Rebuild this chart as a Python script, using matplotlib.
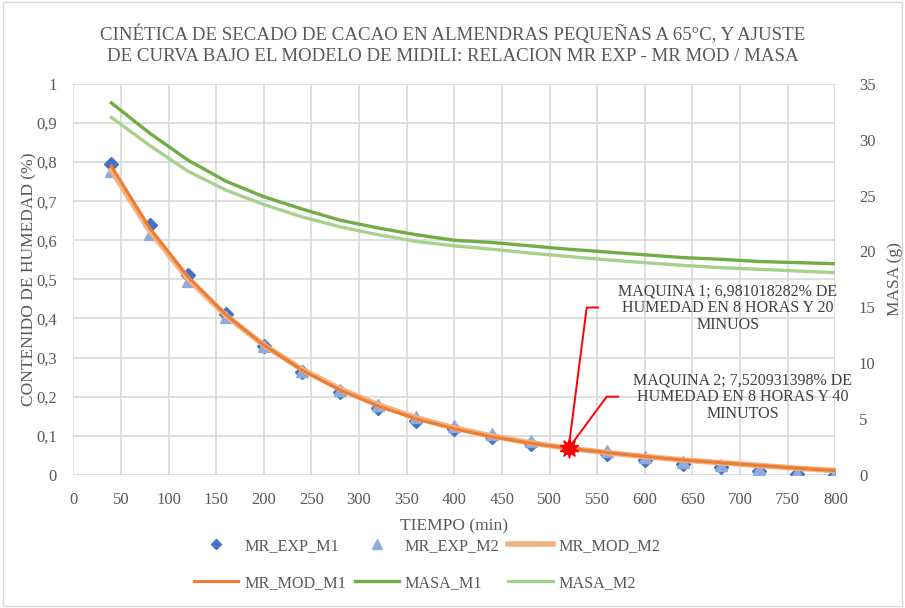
import numpy as np
import matplotlib.pyplot as plt
from matplotlib.patches import Rectangle

plt.rcParams['font.family'] = ['Liberation Serif', 'DejaVu Serif']

# tiempo (min)
tiempo = [40, 80, 120, 160, 200, 240, 280, 320, 360, 400,
          440, 480, 520, 560, 600, 640, 680, 720, 760, 800]

# razon de humedad experimental
mr_exp_m1 = [0.794, 0.638, 0.512, 0.411, 0.330, 0.262, 0.211, 0.170, 0.139, 0.118,
             0.098, 0.080, 0.068, 0.054, 0.038, 0.028, 0.020, 0.011, 0.003, 0.000]
mr_exp_m2 = [0.778, 0.615, 0.495, 0.403, 0.329, 0.265, 0.216, 0.179, 0.149, 0.126,
             0.105, 0.086, 0.075, 0.060, 0.045, 0.034, 0.024, 0.014, 0.006, 0.002]

# modelo de Midili
mr_mod_m1 = [0.790, 0.632, 0.508, 0.410, 0.332, 0.268, 0.217, 0.176, 0.143, 0.118,
             0.097, 0.081, 0.068, 0.057, 0.047, 0.038, 0.031, 0.024, 0.017, 0.011]
mr_mod_m2 = [0.780, 0.625, 0.503, 0.408, 0.332, 0.270, 0.220, 0.179, 0.146, 0.120,
             0.099, 0.082, 0.068, 0.057, 0.047, 0.038, 0.031, 0.024, 0.017, 0.011]

# masa (g)
masa_m1 = [33.3, 30.6, 28.2, 26.3, 24.9, 23.8, 22.8, 22.1, 21.5, 21.0,
           20.8, 20.5, 20.2, 19.95, 19.7, 19.45, 19.3, 19.1, 19.0, 18.9]
masa_m2 = [32.0, 29.5, 27.2, 25.5, 24.2, 23.1, 22.2, 21.5, 20.9, 20.5,
           20.2, 19.85, 19.55, 19.25, 19.0, 18.75, 18.55, 18.4, 18.25, 18.1]

# punto final marcado
punto_t = 520
punto_mr = 0.068

gris = '#595959'
fig = plt.figure(figsize=(9.05, 6.08), dpi=100)
fig.patches.append(Rectangle((0.003, 0.003), 0.994, 0.994, transform=fig.transFigure,
                             fill=False, edgecolor='#D9D9D9', lw=1))
ax = fig.add_axes([0.081, 0.219, 0.842, 0.643])
ax2 = ax.twinx()

d1, = ax.plot(tiempo, mr_exp_m1, 'D', color='#4472C4', ms=7, ls='none', label='MR_EXP_M1')
d2, = ax.plot(tiempo, mr_exp_m2, '^', color='#8FAADC', ms=9, ls='none', label='MR_EXP_M2')
l2, = ax.plot(tiempo, mr_mod_m2, color='#F4B183', lw=4, label='MR_MOD_M2')
l1, = ax.plot(tiempo, mr_mod_m1, color='#ED7D31', lw=2.2, label='MR_MOD_M1')
g1, = ax2.plot(tiempo, masa_m1, color='#70AD47', lw=2.4, label='MASA_M1')
g2, = ax2.plot(tiempo, masa_m2, color='#A9D18E', lw=2.4, label='MASA_M2')

ax.plot([punto_t], [punto_mr], marker=(10, 1, 0), color='red', ms=14, zorder=6)

# anotaciones
ax.plot([punto_t, 539, 551], [punto_mr, 0.428, 0.428], color='red', lw=1.4, zorder=6)
ax.plot([punto_t, 560, 572], [punto_mr, 0.2, 0.2], color='red', lw=1.4, zorder=6)
ax.text(687, 0.426, 'MAQUINA 1; 6,981018282% DE\nHUMEDAD EN 8 HORAS Y 20\nMINUOS',
        ha='center', va='center', fontsize=11.5, color='#404040', linespacing=1.08,
        clip_on=False, zorder=7)
ax.text(703, 0.199, 'MAQUINA 2; 7,520931398% DE\nHUMEDAD EN 8 HORAS Y 40\nMINUTOS',
        ha='center', va='center', fontsize=11.5, color='#404040', linespacing=1.08,
        clip_on=False, zorder=7)

ax.set_xlim(0, 800)
ax.set_ylim(0, 1)
ax2.set_ylim(0, 35)
ax.set_xticks(np.arange(0, 801, 50))
yt = np.arange(0, 1.01, 0.1)
ax.set_yticks(yt)
ax.set_yticklabels(['0' if v < 1e-9 else ('1' if v > 0.99 else f'{v:.1f}'.replace('.', ',')) for v in yt])
ax2.set_yticks(np.arange(0, 36, 5))
ax.grid(True, color='#D9D9D9', lw=1.2)
ax.set_axisbelow(True)
for a in (ax, ax2):
    for s in a.spines.values():
        s.set_visible(False)
ax.tick_params(axis='x', length=0, pad=12, labelsize=12, labelcolor=gris)
ax.tick_params(axis='y', length=0, pad=12, labelsize=12, labelcolor=gris)
ax2.tick_params(axis='y', length=0, pad=17, labelsize=12, labelcolor=gris)

ax.set_xlabel('TIEMPO (min)', fontsize=12.5, color=gris, labelpad=8)
ax.set_ylabel('CONTENIDO DE HUMEDAD (%)', fontsize=12.5, color=gris, labelpad=-1)
ax2.set_ylabel('MASA (g)', fontsize=12.5, color=gris, labelpad=8)

fig.text(0.5, 0.926, 'CINÉTICA DE SECADO DE CACAO EN ALMENDRAS PEQUEÑAS A 65°C, Y AJUSTE\n'
         'DE CURVA BAJO EL MODELO DE MIDILI: RELACION MR EXP - MR MOD / MASA',
         ha='center', va='center', fontsize=13.6, color=gris, linespacing=1.3)

# orden de la leyenda (Excel llena por filas)
handles = [d1, l1, d2, g1, l2, g2]
leg = fig.legend(handles, [h.get_label() for h in handles], ncol=3, loc='center',
                 bbox_to_anchor=(0.472, 0.072), frameon=False, fontsize=11.6,
                 handlelength=2.75, handletextpad=0.35, columnspacing=0.55,
                 labelspacing=1.3, markerscale=0.75)
for t in leg.get_texts():
    t.set_color(gris)

fig.savefig('out.png', dpi=100)
